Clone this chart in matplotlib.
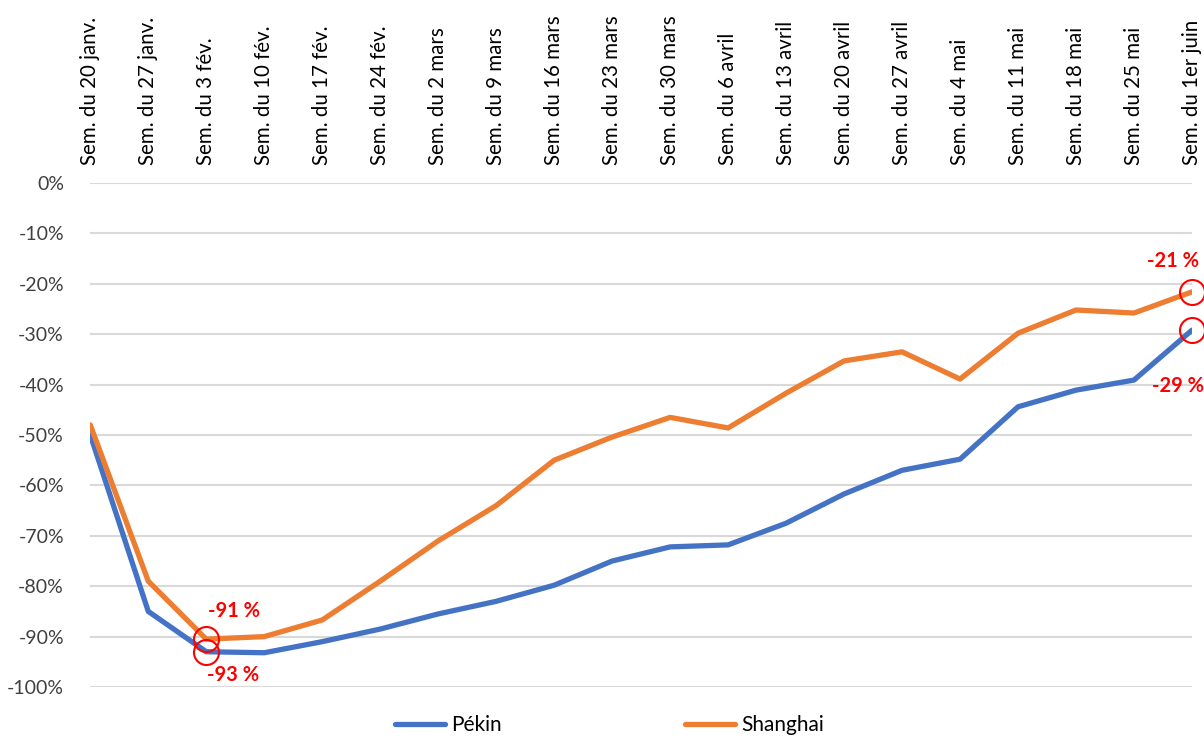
import numpy as np
import matplotlib.pyplot as plt

plt.rcParams['font.family'] = ['Lato', 'DejaVu Sans']

semaines = ['Sem. du 20 janv.', 'Sem. du 27 janv.', 'Sem. du 3 fév.', 'Sem. du 10 fév.',
            'Sem. du 17 fév.', 'Sem. du 24 fév.', 'Sem. du 2 mars', 'Sem. du 9 mars',
            'Sem. du 16 mars', 'Sem. du 23 mars', 'Sem. du 30 mars', 'Sem. du 6 avril',
            'Sem. du 13 avril', 'Sem. du 20 avril', 'Sem. du 27 avril', 'Sem. du 4 mai',
            'Sem. du 11 mai', 'Sem. du 18 mai', 'Sem. du 25 mai', 'Sem. du 1er juin']

pekin = [-50, -85, -93, -93.2, -91, -88.5, -85.5, -83, -79.8, -75, -72.2, -71.8,
         -67.5, -61.7, -57, -54.8, -44.4, -41.1, -39.1, -29.2]
shanghai = [-48, -79, -90.5, -90, -86.7, -79, -71, -64, -55, -50.4, -46.5, -48.6,
            -41.7, -35.3, -33.5, -38.9, -29.8, -25.2, -25.8, -21.6]

# points entourés et leurs étiquettes (décalage en points)
marques = [(2, shanghai[2], '-91 %', (20, 20)),
           (2, pekin[2], '-93 %', (19, -17)),
           (19, shanghai[19], '-21 %', (-14, 22)),
           (19, pekin[19], '-29 %', (-10, -40))]

x = np.arange(len(semaines))

fig = plt.figure(figsize=(12.04, 7.40), dpi=100)
ax = fig.add_axes([0.075, 0.0716, 0.915, 0.6811])

ax.plot(x, pekin, color='#4472C4', lw=3.8, label='Pékin', solid_capstyle='round')
ax.plot(x, shanghai, color='#ED7D31', lw=3.8, label='Shanghai', solid_capstyle='round')

for i, v, txt, off in marques:
    ax.plot(i, v, 'o', ms=18, mfc='none', mec='red', mew=1.5, clip_on=False)
    ax.annotate(txt, (i, v), xytext=off, textcoords='offset points', ha='center', va='center',
                color='red', fontsize=14.5, fontweight='bold')

ax.set_xlim(0, len(semaines) - 1)
ax.set_ylim(-100, 0)
ax.set_yticks(np.arange(-100, 1, 10))
ax.set_yticklabels([f'{v}%' for v in range(-100, 1, 10)], fontsize=14, color='#404040')
ax.set_xticks(x)
ax.set_xticklabels(semaines, rotation=90, fontsize=14.8, color='black')
ax.xaxis.tick_top()
ax.tick_params(axis='x', length=0, pad=13)
ax.tick_params(axis='y', length=0, pad=19)
ax.grid(axis='y', color='#D9D9D9', lw=1.5)
ax.set_axisbelow(True)
for s in ax.spines.values():
    s.set_visible(False)

fig.legend(loc='center', bbox_to_anchor=(0.506, 0.02), ncol=2, frameon=False,
           fontsize=15, handlelength=2.4, handletextpad=0.3, columnspacing=8.8,
           borderpad=0)

fig.savefig('out.png', dpi=100)
